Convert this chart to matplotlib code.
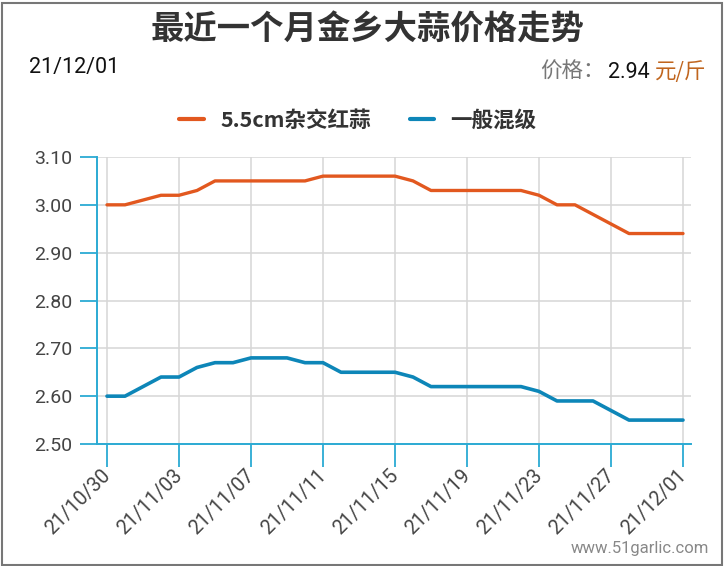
import matplotlib
matplotlib.use("Agg")
import matplotlib.pyplot as plt
from matplotlib.patches import Rectangle

plt.rcParams['font.family'] = ['Roboto', 'Noto Sans CJK SC', 'DejaVu Sans']

dates = ["21/10/30", "21/10/31", "21/11/01", "21/11/02", "21/11/03", "21/11/04", "21/11/05",
         "21/11/06", "21/11/07", "21/11/08", "21/11/09", "21/11/10", "21/11/11", "21/11/12",
         "21/11/13", "21/11/14", "21/11/15", "21/11/16", "21/11/17", "21/11/18", "21/11/19",
         "21/11/20", "21/11/21", "21/11/22", "21/11/23", "21/11/24", "21/11/25", "21/11/26",
         "21/11/27", "21/11/28", "21/11/29", "21/11/30", "21/12/01"]
red_garlic = [3.00, 3.00, 3.01, 3.02, 3.02, 3.03, 3.05, 3.05, 3.05, 3.05, 3.05, 3.05,
              3.06, 3.06, 3.06, 3.06, 3.06, 3.05, 3.03, 3.03, 3.03, 3.03, 3.03, 3.03,
              3.02, 3.00, 3.00, 2.98, 2.96, 2.94, 2.94, 2.94, 2.94]
mixed_grade = [2.60, 2.60, 2.62, 2.64, 2.64, 2.66, 2.67, 2.67, 2.68, 2.68, 2.68, 2.67,
               2.67, 2.65, 2.65, 2.65, 2.65, 2.64, 2.62, 2.62, 2.62, 2.62, 2.62, 2.62,
               2.61, 2.59, 2.59, 2.59, 2.57, 2.55, 2.55, 2.55, 2.55]
series_names = ["5.5cm杂交红蒜", "一般混级"]
yticks = [2.50, 2.60, 2.70, 2.80, 2.90, 3.00, 3.10]
tick_step = 4
title = "最近一个月金乡大蒜价格走势"
latest_date = "21/12/01"
latest_price = "2.94"

W, H = 725, 566
fig = plt.figure(figsize=(W / 100, H / 100), dpi=100)
fig.patch.set_facecolor('white')

ax_l, ax_r, ax_t, ax_b = 97, 691, 157, 444
ax = fig.add_axes([ax_l / W, 1 - ax_b / H, (ax_r - ax_l) / W, (ax_b - ax_t) / H])

orange = '#E2581F'
blue = '#0D86B8'
cyan = '#2BAAD3'
grid = '#D6D6D6'

x = list(range(len(dates)))
ax.plot(x, red_garlic, color=orange, lw=2.4, solid_joinstyle='round', solid_capstyle='round',
        label=series_names[0], zorder=3)
ax.plot(x, mixed_grade, color=blue, lw=2.6, solid_joinstyle='round', solid_capstyle='round',
        label=series_names[1], zorder=3)

px_per = (683 - 107) / 32
ax.set_xlim(-(107 - ax_l) / px_per, 32 + (ax_r - 683) / px_per)
ax.set_ylim(2.50, 3.10)

tick_idx = x[::tick_step]
ax.set_xticks(tick_idx)
ax.set_xticklabels([dates[i] for i in tick_idx], rotation=45, ha='right', va='center',
                   rotation_mode='anchor')
ax.set_yticks(yticks)
ax.set_yticklabels([f"{v:.2f}" for v in yticks])

for s in ['top', 'right']:
    ax.spines[s].set_visible(False)
for s in ['left', 'bottom']:
    ax.spines[s].set_color(cyan)
    ax.spines[s].set_linewidth(1.4)

ax.tick_params(axis='y', length=12, width=1.3, color=cyan, pad=6, labelsize=14, labelcolor='#444444')
ax.tick_params(axis='x', length=16.5, width=1.3, color=cyan, pad=4, labelsize=14.3, labelcolor='#444444')
ax.grid(True, color=grid, lw=1.1, zorder=0)
ax.set_axisbelow(True)

# Title and header texts
fig.text(367 / W, 1 - 30 / H, title, ha='center', va='center', fontsize=24, fontweight='bold',
         color='#333333', family=['Noto Sans CJK SC', 'DejaVu Sans'])
fig.text(29 / W, 1 - 68 / H, latest_date, ha='left', va='center', fontsize=15.5, color='#111111')

ysub = 1 - 72 / H
t_unit = fig.text(706 / W, ysub, "元/斤", ha='right', va='center', fontsize=15.5,
                  color='#C0651E', family=['Noto Sans CJK SC', 'DejaVu Sans'])
fig.canvas.draw()
r = fig.canvas.get_renderer()
bb = t_unit.get_window_extent(r)
t_val = fig.text((bb.x0 - 5) / W, ysub, latest_price, ha='right', va='center', fontsize=15.5,
                 color='#111111')
bb2 = t_val.get_window_extent(r)
fig.text((bb2.x0 - 3) / W, ysub, "价格：", ha='right', va='center', fontsize=15.5, color='#777777',
         family=['Noto Sans CJK SC', 'DejaVu Sans'])

leg = ax.legend(loc='center', bbox_to_anchor=(358 / W, 1 - 120 / H), bbox_transform=fig.transFigure,
                ncol=2, frameon=False, handlelength=1.15, handletextpad=0.75, columnspacing=1.8,
                prop={'family': ['Noto Sans CJK SC', 'DejaVu Sans'], 'weight': 'bold', 'size': 15.5})
for t in leg.get_texts():
    t.set_color('#333333')
for h in leg.get_lines():
    h.set_linewidth(3)

fig.text(709 / W, 1 - 549 / H, "www.51garlic.com", ha='right', va='center', fontsize=12, color='#888888')

fig.patches.append(Rectangle((1.5 / W, 1.5 / H), (W - 5) / W, (H - 4.5) / H, transform=fig.transFigure,
                             fill=False, edgecolor='#777777', lw=1.5))

fig.savefig('out.png', dpi=100, facecolor='white')
